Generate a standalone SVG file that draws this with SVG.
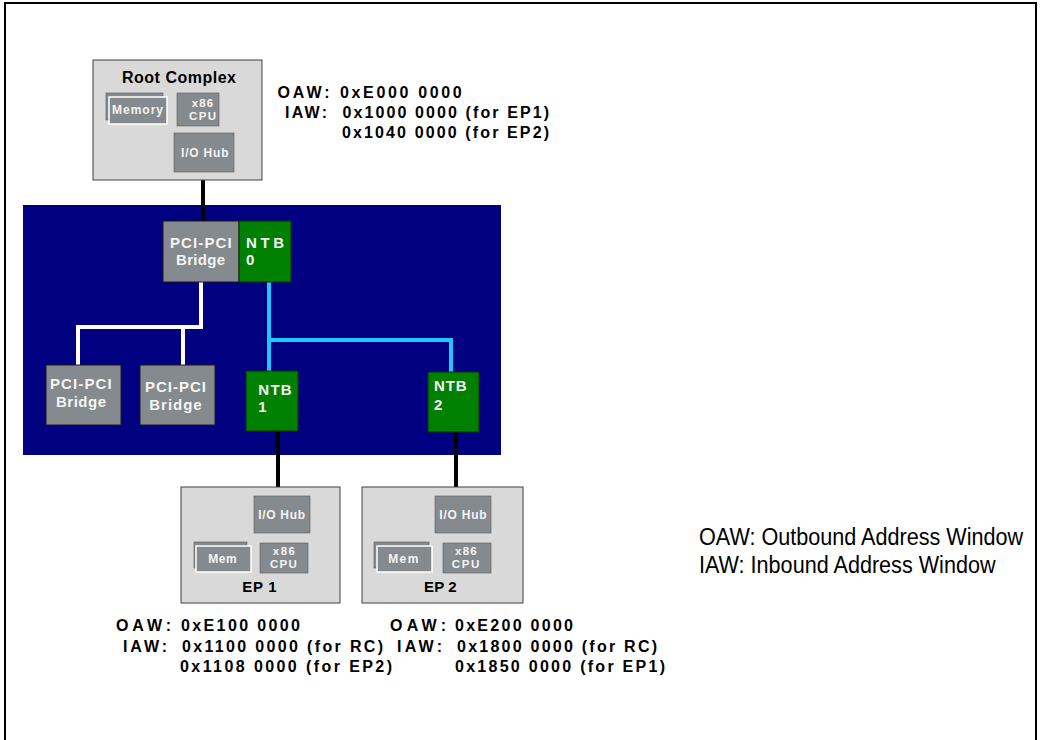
<svg xmlns="http://www.w3.org/2000/svg" width="1041" height="740" viewBox="0 0 1041 740">
<style>
.frame{fill:none;stroke:#000;stroke-width:2}
.host{fill:#d9d9d9;stroke:#404040;stroke-width:1}
.chip{fill:#858a8e;stroke:#5a5a5a;stroke-width:0.6}
.memf{fill:#858a8e;stroke:#ffffff;stroke-width:1.5}
.ntb{fill:#008000;stroke:#003300;stroke-width:1}
.br{fill:#858a8e;stroke:#1a1a1a;stroke-width:1}
.t{font-family:"Liberation Sans",Arial,sans-serif;font-weight:bold;fill:#f4f4f4}
.h{font-family:"Liberation Sans",Arial,sans-serif;font-weight:bold;fill:#000}
.lg{font-family:"Liberation Sans",Arial,sans-serif;fill:#000;font-size:24px}
.blk{stroke:#000;stroke-width:4;fill:none}
.wht{stroke:#fff;stroke-width:4;fill:none}
.cyn{stroke:#1ec8ff;stroke-width:4;fill:none}
.thin{stroke:#555;stroke-width:1.5;fill:none}
</style>
<rect width="1041" height="740" fill="#fff"/>
<path class="frame" d="M5,740 V3 H1036 V740"/>

<rect id="switch" x="23" y="205" width="478" height="250" fill="#000080"/>

<g id="connectors">
<line class="thin" x1="167" y1="109" x2="177" y2="109"/>
<line class="blk" x1="203" y1="126" x2="203" y2="133"/>
<line class="blk" x1="203" y1="172" x2="203" y2="221"/>
<path class="wht" d="M201,282 V327 H78 V365 M183,327 V365"/>
<path class="cyn" d="M269,282 V340 H451 V372 M269,340 V371"/>
<line class="blk" x1="278" y1="431" x2="278" y2="496"/>
<line class="blk" x1="456" y1="432" x2="456" y2="496"/>
<line class="blk" x1="283" y1="533" x2="283" y2="543"/>
<line class="blk" x1="464" y1="533" x2="464" y2="543"/>
<line class="thin" x1="251" y1="558" x2="260" y2="558"/>
<line class="thin" x1="432" y1="558" x2="443" y2="558"/>
</g>

<g id="root-complex">
<rect class="host" x="93" y="60" width="169" height="120"/>
<text class="h" x="122" y="83" font-size="16" textLength="114">Root Complex</text>
<rect class="chip" x="106" y="93" width="57" height="27"/>
<rect class="memf" x="109" y="97" width="58" height="27"/>
<text class="t" x="112" y="114" font-size="12" textLength="51">Memory</text>
<rect class="chip" x="177" y="93" width="42" height="33"/>
<text class="t" x="191.7" y="106.7" font-size="11.5" textLength="21.5">x86</text>
<text class="t" x="189" y="120" font-size="11.5" textLength="27">CPU</text>
<rect class="chip" x="174" y="133" width="60" height="39"/>
<text class="t" x="181" y="156.7" font-size="12" textLength="47.5">I/O Hub</text>
</g>

<g id="bridge-top">
<rect class="br" x="163" y="221" width="76" height="61"/>
<text class="t" x="170" y="248" font-size="15" textLength="61.7">PCI-PCI</text>
<text class="t" x="176" y="265" font-size="15" textLength="49">Bridge</text>
</g>
<g id="ntb0">
<rect class="ntb" x="239" y="221" width="52" height="61"/>
<text class="t" x="246" y="248" font-size="15" textLength="38">NTB</text>
<text class="t" x="246" y="265" font-size="15">0</text>
</g>
<g id="bridge-1">
<rect class="br" x="46" y="365" width="75" height="60"/>
<text class="t" x="50" y="389.3" font-size="15" textLength="61.7">PCI-PCI</text>
<text class="t" x="56" y="406.7" font-size="15" textLength="50">Bridge</text>
</g>
<g id="bridge-2">
<rect class="br" x="140" y="365" width="75" height="60"/>
<text class="t" x="145" y="391.7" font-size="15" textLength="61">PCI-PCI</text>
<text class="t" x="149.3" y="410" font-size="15" textLength="52.4">Bridge</text>
</g>
<g id="ntb1">
<rect class="ntb" x="246" y="371" width="52" height="60"/>
<text class="t" x="258.3" y="395" font-size="15" textLength="33.4">NTB</text>
<text class="t" x="258.3" y="412.3" font-size="15">1</text>
</g>
<g id="ntb2">
<rect class="ntb" x="428" y="372" width="51" height="60"/>
<text class="t" x="434" y="391" font-size="15" textLength="32.7">NTB</text>
<text class="t" x="434" y="410" font-size="15">2</text>
</g>

<g id="ep1">
<rect class="host" x="181" y="487" width="159" height="116"/>
<rect class="chip" x="254" y="496" width="56" height="37"/>
<text class="t" x="258.3" y="519.3" font-size="12" textLength="46.7">I/O Hub</text>
<rect class="chip" x="260" y="543" width="48" height="30"/>
<text class="t" x="272.7" y="555" font-size="11.5" textLength="22.3">x86</text>
<text class="t" x="270" y="568.3" font-size="11.5" textLength="26.7">CPU</text>
<rect class="chip" x="194" y="542" width="53" height="26"/>
<rect class="memf" x="196" y="546" width="55" height="26"/>
<text class="t" x="208.3" y="563.3" font-size="12" textLength="28.4">Mem</text>
<text class="h" x="242.3" y="592.3" font-size="15" textLength="34.4">EP 1</text>
</g>

<g id="ep2">
<rect class="host" x="362" y="487" width="161" height="116"/>
<rect class="chip" x="435" y="496" width="56" height="37"/>
<text class="t" x="439.3" y="519.3" font-size="12" textLength="47.4">I/O Hub</text>
<rect class="chip" x="443" y="543" width="48" height="30"/>
<text class="t" x="455" y="555" font-size="11.5" textLength="21.7">x86</text>
<text class="t" x="451.7" y="568.3" font-size="11.5" textLength="27.6">CPU</text>
<rect class="chip" x="374" y="542" width="55" height="26"/>
<rect class="memf" x="377" y="546" width="55" height="26"/>
<text class="t" x="388.3" y="563.3" font-size="12" textLength="30">Mem</text>
<text class="h" x="424" y="592.3" font-size="15" textLength="32.7">EP 2</text>
</g>

<g id="rc-windows" class="h" font-size="16">
<text x="277.5" y="98" textLength="52">OAW:</text>
<text x="340" y="98" textLength="121.7">0xE000 0000</text>
<text x="285" y="118" textLength="42">IAW:</text>
<text x="342.5" y="118" textLength="206.5">0x1000 0000 (for EP1)</text>
<text x="342" y="138" textLength="207">0x1040 0000 (for EP2)</text>
</g>

<g id="ep1-windows" class="h" font-size="16">
<text x="116" y="631" textLength="55">OAW:</text>
<text x="181" y="631" textLength="119">0xE100 0000</text>
<text x="123" y="652" textLength="44">IAW:</text>
<text x="182" y="652" textLength="201">0x1100 0000 (for RC)</text>
<text x="180" y="672" textLength="212">0x1108 0000 (for EP2)</text>
</g>

<g id="ep2-windows" class="h" font-size="16">
<text x="390" y="631" textLength="56">OAW:</text>
<text x="455" y="631" textLength="118">0xE200 0000</text>
<text x="397" y="652" textLength="45">IAW:</text>
<text x="457" y="652" textLength="200">0x1800 0000 (for RC)</text>
<text x="455" y="672" textLength="210">0x1850 0000 (for EP1)</text>
</g>

<g id="legend">
<text class="lg" transform="translate(699,545) scale(0.9,1)">OAW: Outbound Address Window</text>
<text class="lg" transform="translate(699,573) scale(0.9,1)">IAW: Inbound Address Window</text>
</g>
</svg>
